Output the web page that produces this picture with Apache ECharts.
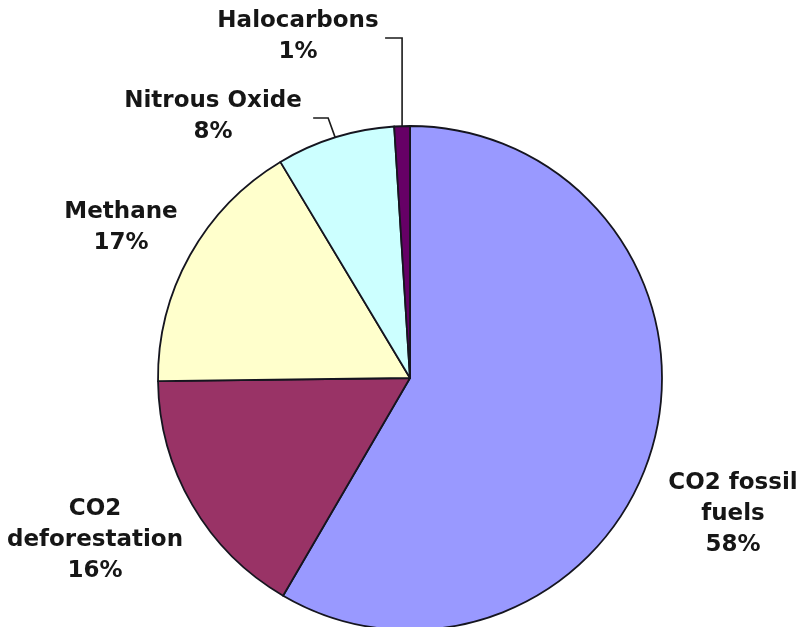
<!DOCTYPE html>
<html>
<head>
<meta charset="utf-8">
<script src="https://cdn.jsdelivr.net/npm/echarts@6/dist/echarts.min.js"></script>
<style>
html,body{margin:0;padding:0;background:#fff;}
#chart{width:808px;height:627px;}
</style>
</head>
<body>
<div id="chart"></div>
<script>
// Data
const categories = ['CO2 fossil fuels', 'CO2 deforestation', 'Methane', 'Nitrous Oxide', 'Halocarbons'];
const labelTexts = ['CO2 fossil\nfuels', 'CO2\ndeforestation', 'Methane', 'Nitrous Oxide', 'Halocarbons'];
const values = [58.4, 16.4, 16.6, 7.6, 1.0];
const colors = ['#9999FF', '#993366', '#FFFFCC', '#CCFFFF', '#660066'];

// Label anchor placement (styling only)
const labelPos = [[733, 514], [95, 540], [121, 228], [213, 117], [298, 37]];
const showLeader = [false, false, false, true, true];

const chart = echarts.init(document.getElementById('chart'));
chart.setOption({
  animation: false,
  backgroundColor: '#ffffff',
  series: [{
    type: 'pie',
    center: [410, 378],
    radius: 252,
    startAngle: 90,
    clockwise: true,
    avoidLabelOverlap: false,
    silent: true,
    itemStyle: { borderColor: '#15151f', borderWidth: 1.8 },
    label: {
      show: true,
      position: 'outside',
      fontFamily: 'DejaVu Sans',
      fontWeight: 'bold',
      fontSize: 23,
      lineHeight: 31,
      color: '#161616',
      align: 'center',
      formatter: p => labelTexts[p.dataIndex] + '\n' + Math.round(p.value) + '%'
    },
    labelLine: { show: true, lineStyle: { color: '#1a1a1a', width: 1.6 }, length: 10, length2: 10 },
    labelLayout: function (params) {
      const i = params.dataIndex;
      const pos = labelPos[i];
      const res = { x: pos[0], y: pos[1], align: 'center', verticalAlign: 'middle' };
      if (showLeader[i] && params.labelLinePoints) {
        const edge = params.labelLinePoints[0];
        if (i === 4) {
          res.labelLinePoints = [edge, [edge[0], pos[1] + 1], [edge[0] - 17, pos[1] + 1]];
        } else {
          res.labelLinePoints = [edge, [edge[0] - 7, pos[1] + 1], [edge[0] - 22, pos[1] + 1]];
        }
      }
      return res;
    },
    data: categories.map((c, i) => ({
      name: c,
      value: values[i],
      itemStyle: { color: colors[i] },
      labelLine: { show: showLeader[i] }
    }))
  }]
});
</script>
</body>
</html>
